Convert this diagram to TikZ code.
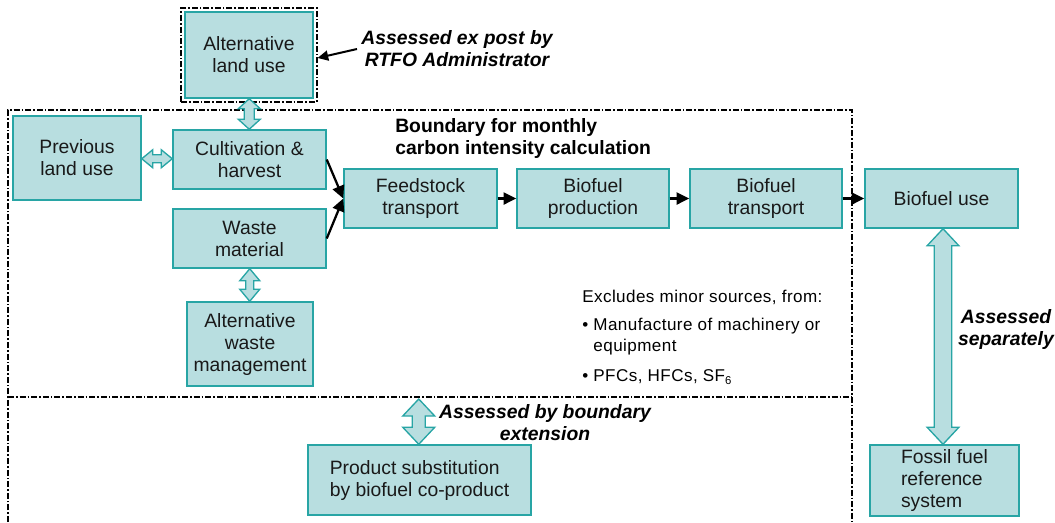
\documentclass[tikz,border=0pt]{standalone}
\usepackage{fontspec}
\setmainfont{Liberation Sans}
\usetikzlibrary{arrows.meta,calc,fit}
\definecolor{boxfill}{RGB}{184,222,224}
\definecolor{boxline}{RGB}{40,165,165}
\newcommand\mybox[7][]{\node[box,#1,minimum width={(#5-#3)*0.75pt},minimum height={(#6-#4)*0.75pt}] (#2) at ({(#3+#5)/2},{(#4+#6)/2}) {#7};}
% vertical double block arrow: #1 top point, #2 bottom point, #3 half head, #4 half shaft, #5 head length
\newcommand\vdarr[5]{\draw[dblarr] let \p1=(#1), \p2=(#2), \n1={(\x1+\x2)/2} in
 (\n1,\y1) -- ({\n1+#3},{\y1-#5}) -- ({\n1+#4},{\y1-#5}) -- ({\n1+#4},{\y2+#5}) -- ({\n1+#3},{\y2+#5}) -- (\n1,\y2)
 -- ({\n1-#3},{\y2+#5}) -- ({\n1-#4},{\y2+#5}) -- ({\n1-#4},{\y1-#5}) -- ({\n1-#3},{\y1-#5}) -- cycle;}
% horizontal double block arrow: #1 left point, #2 right point
\newcommand\hdarr[5]{\draw[dblarr] let \p1=(#1), \p2=(#2), \n1={(\y1+\y2)/2} in
 (\x1,\n1) -- ({\x1+#5},{\n1+#3}) -- ({\x1+#5},{\n1+#4}) -- ({\x2-#5},{\n1+#4}) -- ({\x2-#5},{\n1+#3}) -- (\x2,\n1)
 -- ({\x2-#5},{\n1-#3}) -- ({\x2-#5},{\n1-#4}) -- ({\x1+#5},{\n1-#4}) -- ({\x1+#5},{\n1-#3}) -- cycle;}
\begin{document}
\begin{tikzpicture}[x=0.75pt,y=-0.75pt,
 box/.style={draw=boxline, fill=boxfill, line width=1.1pt, inner sep=0pt, align=center,
   font=\fontsize{14.5}{16.5}\selectfont, text=black!90},
 bound/.style={line width=1.5pt, dash pattern=on 4.5pt off 1.5pt on 1.2pt off 1.5pt},
 flow/.style={line width=1.7pt, -{Triangle[length=9.5pt,width=9pt]}},
 dblarr/.style={draw=boxline, fill=boxfill, line width=1pt, line join=miter},
 note/.style={font=\bfseries\itshape\fontsize{14.5}{16.5}\selectfont, align=center, inner sep=0pt},
]
\useasboundingbox (0,0) rectangle (1055,522);

% boundaries
\draw[bound] (8,522) -- (8,110) -- (852,110) -- (852,522);
\draw[bound] (8,397) -- (852,397);

% boxes
\mybox{alu}{185}{12}{313}{98}{Alternative\\land use}
\node[bound, draw, line width=1.2pt, fit=(alu), inner sep=2.25pt] (altbox) {};
\mybox{plu}{13}{116}{141}{200}{Previous\\land use}
\mybox{cult}{173}{130}{326}{189}{Cultivation \&\\harvest}
\mybox{waste}{173}{209}{326}{268}{Waste\\material}
\mybox{awm}{187}{302}{313}{386}{Alternative\\waste\\management}
\mybox{feed}{344}{169}{497}{228}{Feedstock\\transport}
\mybox{prod}{517}{169}{669}{228}{Biofuel\\production}
\mybox{trans}{690}{169}{842}{228}{Biofuel\\transport}
\mybox{use}{865}{169}{1018}{228}{Biofuel use}
\mybox[align=left]{fossil}{870}{445}{1019}{516}{Fossil fuel\\reference\\system}
\mybox[align=left]{psub}{308}{445}{531}{515}{Product substitution\\by biofuel co-product}

% flow arrows
\draw[flow] (cult.east) -- (feed.west);
\draw[flow] (waste.east) -- (feed.west);
\draw[flow] (feed) -- (prod);
\draw[flow] (prod) -- (trans);
\draw[flow] (trans) -- (use);

% double block arrows
\vdarr{alu.south}{cult.north}{8.25pt}{3.75pt}{7.5pt}
\hdarr{plu.east}{cult.west}{6.75pt}{3pt}{8.25pt}
\vdarr{waste.south}{awm.north}{7.5pt}{3pt}{9pt}
\coordinate (bpt) at (418,399);
\vdarr{bpt}{psub.north}{12pt}{4.9pt}{12.75pt}
\vdarr{use.south}{fossil.north}{11.9pt}{6.6pt}{12.75pt}

% texts
\node[note, anchor=north] (ann1) at (457,30) {Assessed ex post by\\RTFO Administrator};
\coordinate (annS) at (357,49);
\draw[line width=1.5pt, -{Triangle[length=8pt,width=7.5pt]}] (annS) -- ([yshift=-2.25pt]altbox.east);
\node[anchor=north west, align=left, inner sep=0pt, font=\bfseries\fontsize{14.5}{17}\selectfont] (btitle) at (395,118) {Boundary for monthly\\carbon intensity calculation};
\node[note, anchor=north] (ann3) at (545,404) {Assessed by boundary\\extension};
\node[note, anchor=north] (ann4) at (1006,309) {Assessed\\separately};
\node[anchor=north west, align=left, inner sep=0pt, font=\fontsize{12.8}{16}\selectfont\addfontfeature{LetterSpace=2.5}] (excl) at (582,290)
 {Excludes minor sources, from:\\[5pt]
  \textbullet\ Manufacture of machinery or\\
  \hphantom{\textbullet\ }equipment\\[6pt]
  \textbullet\ PFCs, HFCs, SF\raisebox{-0.4ex}{\fontsize{8.5}{9}\selectfont 6}};
\end{tikzpicture}
\end{document}
